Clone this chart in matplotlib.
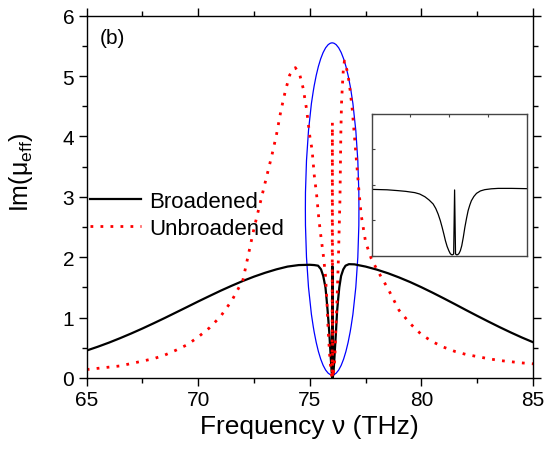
import matplotlib
matplotlib.use("Agg")
import matplotlib.pyplot as plt
from matplotlib.patches import Ellipse
from matplotlib.ticker import MultipleLocator, NullFormatter

plt.rcParams['font.family'] = ['Liberation Sans', 'DejaVu Sans']
plt.rcParams['mathtext.fontset'] = 'custom'
plt.rcParams['mathtext.rm'] = 'Liberation Sans'

# broadened curve (solid black)
broad_x = [65, 65.5, 66, 66.5, 67, 67.5, 68, 68.5, 69, 69.5, 70, 70.5, 71, 71.5,
           72, 72.5, 73, 73.5, 74, 74.5, 75.0, 75.2, 75.37, 75.5, 75.6, 75.7,
           75.75, 75.8, 75.87, 75.92, 75.96, 75.99, 76.0, 76.01, 76.02, 76.05,
           76.08, 76.12, 76.17, 76.22, 76.27, 76.32, 76.4, 76.5, 76.6, 76.75,
           77.0, 77.5, 78, 78.5, 79, 79.5, 80, 80.5, 81, 81.5, 82, 82.5, 83,
           83.5, 84, 84.5, 85]
broad_y = [0.455, 0.518, 0.586, 0.660, 0.738, 0.820, 0.906, 0.994, 1.085, 1.176,
           1.268, 1.357, 1.445, 1.528, 1.607, 1.679, 1.743, 1.799, 1.845, 1.870,
           1.875, 1.870, 1.86, 1.80, 1.69, 1.50, 1.31, 1.10, 0.76, 0.45, 0.20,
           0.05, 0.0, 1.85, 0.0, 0.05, 0.20, 0.45, 0.76, 1.10, 1.31, 1.50, 1.69,
           1.80, 1.86, 1.885, 1.882, 1.845, 1.795, 1.735, 1.665, 1.588, 1.503,
           1.413, 1.319, 1.223, 1.125, 1.029, 0.935, 0.843, 0.755, 0.671, 0.593]

# unbroadened curve (red dotted)
unbr_x = [65, 65.5, 66, 66.5, 67, 67.5, 68, 68.5, 69, 69.5, 70, 70.5, 71, 71.5,
          72, 72.5, 73, 73.3, 73.5, 73.7, 73.9, 74.1, 74.35, 74.55, 74.7, 74.85,
          75.0, 75.1, 75.2, 75.3, 75.4, 75.5, 75.6, 75.7, 75.76, 75.82, 75.9,
          75.96, 76.0, 76.01, 76.02, 76.06, 76.12, 76.16, 76.22, 76.28, 76.31,
          76.35, 76.37, 76.39, 76.42, 76.46, 76.5, 76.55, 76.7, 76.8, 76.9,
          77.0, 77.1, 77.2, 77.3, 77.5, 77.75, 78.0, 78.5, 79, 79.5, 80, 80.5,
          81, 81.5, 82, 82.5, 83, 83.5, 84, 84.5, 85]
unbr_y = [0.14, 0.16, 0.18, 0.20, 0.24, 0.28, 0.32, 0.38, 0.46, 0.55, 0.68, 0.83,
          1.02, 1.28, 1.62, 2.48, 3.24, 3.69, 4.02, 4.42, 4.75, 5.02, 5.14, 5.02,
          4.80, 4.46, 4.00, 3.78, 3.35, 3.05, 2.65, 2.33, 2.05, 1.70, 1.31, 0.80,
          0.31, 0.08, 0.0, 4.23, 0.0, 0.08, 0.31, 0.76, 1.31, 1.97, 2.41, 2.96,
          3.51, 4.07, 4.55, 4.85, 5.10, 5.25, 5.05, 4.78, 4.45, 4.00, 3.55, 3.10,
          2.70, 2.25, 1.98, 1.80, 1.48, 1.12, 0.90, 0.72, 0.60, 0.51, 0.44, 0.39,
          0.355, 0.32, 0.29, 0.27, 0.25, 0.235]

# inset curve (arbitrary units)
inset_x = [0.0, 0.1, 0.171, 0.22, 0.278, 0.31, 0.343, 0.37, 0.396, 0.413, 0.428,
           0.442, 0.454, 0.465, 0.475, 0.486, 0.497, 0.506, 0.514, 0.521, 0.528,
           0.534, 0.540, 0.547, 0.554, 0.562, 0.571, 0.580, 0.59, 0.6, 0.611,
           0.621, 0.632, 0.642, 0.658, 0.675, 0.7, 0.728, 0.77, 0.814, 0.9, 1.0]
inset_y = [0.468, 0.465, 0.459, 0.454, 0.445, 0.435, 0.416, 0.393, 0.365, 0.333,
           0.294, 0.248, 0.2, 0.152, 0.106, 0.065, 0.035, 0.015, 0.007, 0.006,
           0.012, 0.464, 0.012, 0.006, 0.007, 0.015, 0.035, 0.07, 0.13, 0.2,
           0.265, 0.318, 0.358, 0.388, 0.418, 0.44, 0.457, 0.466, 0.472, 0.475,
           0.475, 0.473]

fig = plt.figure(figsize=(5.48, 4.60), dpi=100)
ax = fig.add_axes([0.1582, 0.1761, 0.8144, 0.7876])

ax.plot(broad_x, broad_y, color='black', lw=1.6, label='Broadened')
ax.plot(unbr_x, unbr_y, color='red', lw=2.0, ls=(0, (1, 2.6)),
        dash_capstyle='butt', label='Unbroadened')

ax.add_patch(Ellipse((76.0, 2.8), 2.4, 5.5, fill=False, ec='#0000ff', lw=0.9))

ax.set_xlim(65, 85)
ax.set_ylim(0, 6)
ax.xaxis.set_major_locator(MultipleLocator(5))
ax.xaxis.set_minor_locator(MultipleLocator(2.5))
ax.yaxis.set_major_locator(MultipleLocator(1))
ax.yaxis.set_minor_locator(MultipleLocator(0.5))
ax.tick_params(which='both', direction='out', top=True, right=True, width=1.0,
               labelsize=15)
ax.tick_params(which='major', length=5.5)
ax.tick_params(which='minor', length=3.5)
for s in ax.spines.values():
    s.set_linewidth(1.0)

ax.set_xlabel('Frequency ν (THz)', fontsize=19)
ax.xaxis.set_label_coords(0.5, -0.1)
ax.set_ylabel(r'Im($\mathregular{\mu_{eff}}$)', fontsize=18)
ax.yaxis.set_label_coords(-0.115, 0.57)

ax.text(0.03, 0.94, '(b)', transform=ax.transAxes, fontsize=15, va='center')

ax.legend(loc='center left', bbox_to_anchor=(0.008, 0.45), frameon=False,
          fontsize=16, handlelength=2.3, handletextpad=0.35, labelspacing=0.28,
          borderpad=0, borderaxespad=0)

# inset
ins = fig.add_axes([0.678, 0.442, 0.2838, 0.308])
ins.plot(inset_x, inset_y, color='black', lw=0.9)
ins.set_xlim(0, 1)
ins.set_ylim(0, 1)
ins.xaxis.set_major_locator(MultipleLocator(0.25))
ins.yaxis.set_major_locator(MultipleLocator(0.25))
ins.xaxis.set_major_formatter(NullFormatter())
ins.yaxis.set_major_formatter(NullFormatter())
ins.tick_params(direction='in', top=True, bottom=False, left=True, right=False,
                length=2.5, width=0.8, colors='#444444')
for s in ins.spines.values():
    s.set_linewidth(1.0)
    s.set_color('#444444')

fig.savefig('out.png', dpi=100)
